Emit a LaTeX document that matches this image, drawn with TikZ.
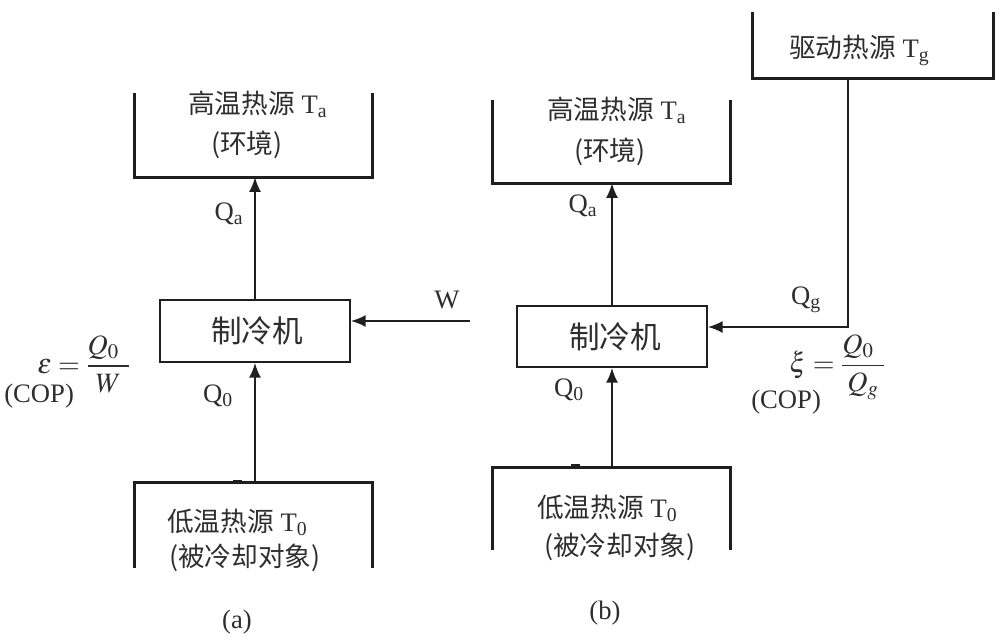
\documentclass[tikz,border=0pt]{standalone}
\usepackage{amsmath}
\usepackage{mathptmx}
\usepackage{fontspec}
\setmainfont{Liberation Serif}
\newfontfamily\cjk{Noto Sans CJK SC}
\usetikzlibrary{arrows.meta}
\begin{document}
\begin{tikzpicture}[x=0.75pt,y=-0.75pt,
  txt/.style={inner sep=0pt, text=black!82, font=\fontsize{20}{24}\selectfont},
  lt/.style={txt, anchor=west},
  mth/.style={inner sep=0pt, anchor=west, text=black!82, font=\fontsize{21}{25}\selectfont},
  big/.style={inner sep=0pt, anchor=west, text=black!82, font=\fontsize{23}{27}\selectfont},
  area/.style={inner sep=0pt, minimum width=#1*0.75pt},
  cont/.style={line width=2pt, line join=miter, draw=black!88},
  chbox/.style={draw=black!88, line width=1.5pt, inner sep=0pt, minimum width=190*0.75pt, minimum height=62*0.75pt},
  arr/.style={draw=black!88, line width=1.2pt, -{Latex[length=11pt,width=9pt]}},
  tick/.style={line width=2.4pt, draw=black!88}]
\useasboundingbox (0,0) rectangle (1000,642);

% ---------------- (a) ----------------
\node[area=237, minimum height=84*0.75pt] (hiA) at (253.5,135) {};
\draw[cont] (hiA.north west) -- (hiA.south west) -- (hiA.south east) -- (hiA.north east);
\node[lt] (hiAt1) at (188,104) {{\cjk 高温热源}\ T\textsubscript{a}};
\node[lt] (hiAt2) at (211,145) {\cjk (环境)};

\node[chbox] (chA) at (255,331) {};
\node[big] (chAt) at (211,331) {\cjk 制冷机};

\node[area=237, minimum height=85*0.75pt] (loA) at (253.5,525.5) {};
\draw[cont] (loA.south west) -- (loA.north west) -- (loA.north east) -- (loA.south east);
\draw[tick] (233,482) -- (242,482);
\node[lt] (loAt1) at (167,522) {{\cjk 低温热源}\ T\textsubscript{0}};
\node[lt] (loAt2) at (169,558) {\cjk (被冷却对象)};

\draw[arr] (chA.north) -- (chA.north |- hiA.south);
\draw[arr] (chA.south |- loA.north) -- (chA.south);
\coordinate (wstart) at (470,321);
\draw[arr] (wstart) -- (wstart -| chA.east);

\node[txt] (QaA) at (229,214) {Q\textsubscript{a}};
\node[txt] (Q0A) at (218,396) {Q\textsubscript{0}};
\node[txt] (WA) at (447,300) {W};
\node[mth] (epsA) at (37,364) {$\varepsilon = \dfrac{\makebox[31pt][l]{$Q_{0}$}}{\makebox[31pt]{$W$}}$};
\node[lt] (copA) at (4,396) {(COP)};
\node[txt] (labA) at (237,622) {(a)};

% ---------------- (b) ----------------
\node[area=237, minimum height=83*0.75pt] (hiB) at (611.5,141.5) {};
\draw[cont] (hiB.north west) -- (hiB.south west) -- (hiB.south east) -- (hiB.north east);
\node[lt] (hiBt1) at (547,110) {{\cjk 高温热源}\ T\textsubscript{a}};
\node[lt] (hiBt2) at (574,152) {\cjk (环境)};

\node[chbox, minimum height=61*0.75pt] (chB) at (612,336.5) {};
\node[big] (chBt) at (569,337) {\cjk 制冷机};

\node[area=237, minimum height=82*0.75pt] (loB) at (611.5,509) {};
\draw[cont] (loB.south west) -- (loB.north west) -- (loB.north east) -- (loB.south east);
\draw[tick] (571,466) -- (580,466);
\node[lt] (loBt1) at (537,508) {{\cjk 低温热源}\ T\textsubscript{0}};
\node[lt] (loBt2) at (544,547) {\cjk (被冷却对象)};

\node[area=240, minimum height=66*0.75pt] (drv) at (873,45) {};
\draw[cont] (drv.north west) -- (drv.south west) -- (drv.south east) -- (drv.north east);
\node[lt] (drvt) at (789,50) {{\cjk 驱动热源}\ T\textsubscript{g}};

\draw[arr] (chB.north) -- (chB.north |- hiB.south);
\draw[arr] (chB.south |- loB.north) -- (chB.south);
\coordinate (cor) at (848,327);
\draw[arr] (drv.south -| cor) -- (cor) -- (cor -| chB.east);

\node[txt] (QaB) at (583,206) {Q\textsubscript{a}};
\node[txt] (Q0B) at (569,390) {Q\textsubscript{0}};
\node[txt] (QgB) at (806,300) {Q\textsubscript{g}};
\node[mth] (xiB) at (789,367) {$\xi = \dfrac{\makebox[31pt][l]{$Q_{0}$}}{\makebox[31pt]{$Q_{g}$}}$};
\node[lt] (copB) at (751,402) {(COP)};
\node[txt] (labB) at (605,613) {(b)};
\end{tikzpicture}
\end{document}
